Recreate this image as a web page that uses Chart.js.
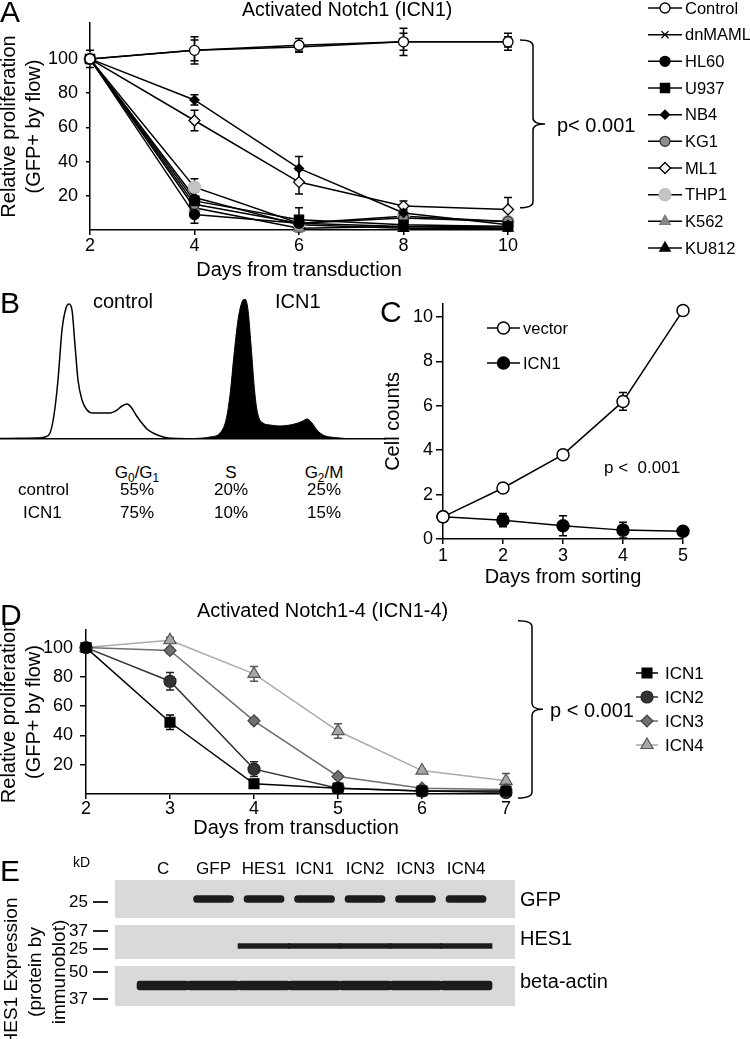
<!DOCTYPE html>
<html>
<head>
<meta charset="utf-8">
<script src="https://cdn.jsdelivr.net/npm/chart.js@4/dist/chart.umd.min.js"></script>
<style>
  body { margin: 0; background: #fff; }
  #page { position: relative; width: 750px; height: 1039px; overflow: hidden; font-family: "Liberation Sans", Arial, sans-serif; color: #000; }
  canvas { position: absolute; }
  .lbl { position: absolute; white-space: nowrap; }
  .lbl sub { font-size: 70%; vertical-align: -4px; line-height: 0; }
</style>
</head>
<body>
<div id="page">
  <canvas id="cA" width="753" height="290" style="left:-3px;top:0"></canvas>
  <canvas id="cB" width="400" height="160" style="left:0;top:290px"></canvas>
  <canvas id="cC" width="369" height="300" style="left:381px;top:290px"></canvas>
  <canvas id="cD" width="753" height="250" style="left:-3px;top:595px"></canvas>
  <canvas id="cE" width="750" height="189" style="left:0;top:850px"></canvas>
</div>
<script>
// ---- panel A: ICN1 in myeloid lines
const daysA = [2, 4, 6, 8, 10];
const linesA = ['Control', 'dnMAML', 'HL60', 'U937', 'NB4', 'KG1', 'ML1', 'THP1', 'K562', 'KU812'];
const valuesA = [
  [100, 105, 108, 110, 110],
  [100, 105, 107, 110, 110],
  [100, 9, 4, 2, 2],
  [100, 17, 6, 3, 2],
  [100, 76, 36, 10, 3],
  [100, 15, 4, 7, 5],
  [100, 64, 28, 14, 12],
  [100, 25, 4, 8, 5],
  [100, 13, 1, 2, 1],
  [100, 19, 3, 1, 1]
];
const errorsA = [
  [0, 8, 4, 8, 5],
  [0, 6, 3, 5, 3],
  [0, 5, 2, 1, 1],
  [5, 3, 7, 1, 1],
  [0, 3, 7, 2, 1],
  [0, 3, 2, 2, 2],
  [0, 6, 7, 3, 7],
  [0, 5, 2, 3, 2],
  [0, 2, 1, 1, 1],
  [0, 3, 1, 1, 1]
];
const yTicksA = [20, 40, 60, 80, 100];

// ---- panel B: cell cycle histograms
const controlChannel = [0, 20, 37, 45, 50, 54, 58, 62, 66, 69, 72, 75, 78, 82, 87, 93, 100, 110, 117, 122, 127, 131, 136, 141, 147, 153, 160, 168, 180, 200, 385];
const controlCounts = [0.5, 0.8, 1, 2, 6, 24, 59, 109, 131, 135, 129, 94, 59, 39, 29, 26, 26, 26, 29, 33, 35, 32, 24, 17, 10, 6, 3, 1, 0.5, 0, 0];
const icnChannel = [185, 195, 210, 220, 226, 230, 234, 238, 242, 245, 248, 251, 255, 258, 263, 270, 280, 290, 298, 303, 307, 312, 317, 323, 330, 340, 350];
const icnCounts = [0, 0.5, 2, 6, 19, 44, 84, 119, 137, 140, 129, 94, 44, 24, 16, 14, 13, 14, 16, 18, 20, 16, 9, 4, 2, 1, 0];
const phases = ['G<sub>0</sub>/G<sub>1</sub>', 'S', 'G<sub>2</sub>/M'];
const controlPct = [55, 20, 25];
const icn1Pct = [75, 10, 15];

// ---- panel C: cell counts after sorting
const daysC = [1, 2, 3, 4, 5];
const vectorC = [1, 2.3, 3.8, 6.2, 10.3];
const vectorErr = [0, 0.2, 0.12, 0.4, 0];
const icn1C = [1, 0.85, 0.6, 0.4, 0.35];
const icn1Err = [0, 0.3, 0.45, 0.35, 0];
const yTicksC = [0, 2, 4, 6, 8, 10];

// ---- panel D: ICN1-4
const daysD = [2, 3, 4, 5, 6, 7];
const namesD = ['ICN1', 'ICN2', 'ICN3', 'ICN4'];
const valuesD = [
  [100, 49, 7, 4, 2, 2],
  [100, 77, 17, 4, 2, 1],
  [100, 98, 50, 12, 4, 3],
  [100, 105, 82, 43, 16, 9]
];
const errorsD = [
  [2, 5, 1, 1, 1, 1],
  [1, 6, 5, 1, 1, 1],
  [1, 2, 2, 2, 1, 1],
  [1, 2, 5, 5, 1, 5]
];
const yTicksD = [20, 40, 60, 80, 100];

// ---- panel E: immunoblot
const lanes = ['C', 'GFP', 'HES1', 'ICN1', 'ICN2', 'ICN3', 'ICN4'];
const gfpBand = [0, 1, 1, 1, 1, 1, 1];
const hes1Band = [0, 0, 1, 1, 1, 1, 1];
const actinBand = [1, 1, 1, 1, 1, 1, 1];
const markerKD = ['25', '37', '25', '50', '37'];
const markerPos = [22, 51, 69, 92, 119];

Chart.defaults.font.family = '"Liberation Sans", Arial, sans-serif';
Chart.defaults.color = '#000';
Chart.defaults.animation = false;

const xy = (xs, ys) => xs.map((x, i) => ({ x: x, y: ys[i] }));

const errorBars = {
  id: 'errorBars',
  beforeDatasetsDraw(chart) {
    const ctx = chart.ctx, ys = chart.scales.y;
    chart.data.datasets.forEach((ds, di) => {
      if (!ds.errors) return;
      const meta = chart.getDatasetMeta(di);
      ctx.save();
      ctx.strokeStyle = ds.errorColor || '#000';
      ctx.lineWidth = 1.5;
      meta.data.forEach((pt, i) => {
        const e = ds.errors[i];
        if (!e) return;
        const v = ds.data[i].y;
        const t = ys.getPixelForValue(v + e), b = ys.getPixelForValue(v - e);
        ctx.beginPath();
        ctx.moveTo(pt.x, t); ctx.lineTo(pt.x, b);
        ctx.moveTo(pt.x - 4, t); ctx.lineTo(pt.x + 4, t);
        ctx.moveTo(pt.x - 4, b); ctx.lineTo(pt.x + 4, b);
        ctx.stroke();
      });
      ctx.restore();
    });
  }
};

const seriesLegend = {
  id: 'seriesLegend',
  afterDraw(chart, args, o) {
    if (o.y0 == null) return;
    const ctx = chart.ctx;
    ctx.save();
    chart.data.datasets.forEach((ds, i) => {
      const y = o.y0 + i * o.dy;
      ctx.strokeStyle = ds.borderColor;
      ctx.lineWidth = 1.5;
      ctx.beginPath(); ctx.moveTo(o.x0, y); ctx.lineTo(o.x1, y); ctx.stroke();
      ctx.fillStyle = ds.pointBackgroundColor;
      ctx.strokeStyle = ds.pointBorderColor;
      ctx.lineWidth = ds.pointBorderWidth || 1;
      Chart.helpers.drawPoint(ctx, { pointStyle: ds.pointStyle, radius: ds.pointRadius, rotation: 0, borderWidth: ds.pointBorderWidth || 1 }, (o.x0 + o.x1) / 2, y);
      ctx.fillStyle = '#000';
      ctx.font = o.size + 'px "Liberation Sans", Arial, sans-serif';
      ctx.textBaseline = 'middle';
      ctx.fillText(ds.label, o.tx, y + 1);
    });
    ctx.restore();
  }
};

const bracket = {
  id: 'bracket',
  afterDraw(chart, args, o) {
    if (o.x == null) return;
    const ys = chart.scales.y, ctx = chart.ctx;
    const t = ys.getPixelForValue(o.top), b = ys.getPixelForValue(o.bottom), m = (t + b) / 2, r = 6;
    ctx.save();
    ctx.strokeStyle = '#000';
    ctx.lineWidth = 1.5;
    ctx.beginPath();
    ctx.moveTo(o.x - o.hook, t);
    ctx.quadraticCurveTo(o.x, t, o.x, t + r);
    ctx.lineTo(o.x, m - r);
    ctx.quadraticCurveTo(o.x, m, o.x + o.tip, m);
    ctx.moveTo(o.x + o.tip, m);
    ctx.quadraticCurveTo(o.x, m, o.x, m + r);
    ctx.lineTo(o.x, b - r);
    ctx.quadraticCurveTo(o.x, b, o.x - o.hook, b);
    ctx.stroke();
    ctx.restore();
  }
};

function axisStyle(extra) {
  return Object.assign({
    grid: { drawOnChartArea: false, color: '#000', lineWidth: 1.5, tickLength: 5 },
    border: { color: '#000', width: 1.5 }
  }, extra);
}

// ---------- A
const markersA = [
  { pointStyle: 'circle', pointRadius: 5, pointBackgroundColor: '#fff', pointBorderColor: '#000' },
  { pointStyle: 'crossRot', pointRadius: 5, pointBackgroundColor: '#000', pointBorderColor: '#000' },
  { pointStyle: 'circle', pointRadius: 5, pointBackgroundColor: '#000', pointBorderColor: '#000' },
  { pointStyle: 'rect', pointRadius: 6.5, pointBackgroundColor: '#000', pointBorderColor: '#000' },
  { pointStyle: 'rectRot', pointRadius: 4.5, pointBackgroundColor: '#000', pointBorderColor: '#000' },
  { pointStyle: 'circle', pointRadius: 5, pointBackgroundColor: '#8c8c8c', pointBorderColor: '#333' },
  { pointStyle: 'rectRot', pointRadius: 5.5, pointBackgroundColor: '#f2f2f2', pointBorderColor: '#000' },
  { pointStyle: 'circle', pointRadius: 6, pointBackgroundColor: '#c4c4c4', pointBorderColor: '#bdbdbd' },
  { pointStyle: 'triangle', pointRadius: 6, pointBackgroundColor: '#8a8a8a', pointBorderColor: '#7a7a7a' },
  { pointStyle: 'triangle', pointRadius: 6, pointBackgroundColor: '#000', pointBorderColor: '#000' }
];

new Chart(document.getElementById('cA'), {
  type: 'line',
  data: {
    datasets: linesA.map((name, i) => Object.assign({
      label: name,
      data: xy(daysA, valuesA[i]),
      errors: errorsA[i],
      borderColor: '#000',
      borderWidth: 1.5,
      pointBorderWidth: 1.3,
      clip: false
    }, markersA[i]))
  },
  options: {
    responsive: false,
    layout: { padding: { left: 0, top: 23, right: 242, bottom: 0 } },
    plugins: {
      legend: { display: false }, tooltip: { enabled: false },
      seriesLegend: { x0: 651, x1: 685, tx: 688, y0: 8, dy: 26.67, size: 16.5 },
      bracket: { x: 536, top: 111, bottom: 13, hook: 13, tip: 12 }
    },
    scales: {
      x: axisStyle({
        type: 'linear', min: 2, max: 10,
        afterFit: s => { s.height = 60; },
        ticks: { stepSize: 2, font: { size: 18, lineHeight: 1.1 }, padding: 1 },
        title: { display: true, text: 'Days from transduction', font: { size: 20, lineHeight: 1.25 }, padding: { top: 0, bottom: 7 } }
      }),
      y: axisStyle({
        min: 0, max: 121,
        afterFit: s => { s.width = 93; },
        afterBuildTicks: s => { s.ticks = yTicksA.map(v => ({ value: v })); },
        ticks: { font: { size: 18 }, padding: 8 },
        grid: { drawOnChartArea: false, color: '#000', lineWidth: 1.5, tickLength: 4 },
        title: { display: true, text: ['Relative proliferation', '(GFP+ by flow)'], font: { size: 20, lineHeight: 1.25 }, padding: { top: 0, bottom: 0 } }
      })
    }
  },
  plugins: [errorBars, seriesLegend, bracket]
});

// ---------- B
new Chart(document.getElementById('cB'), {
  type: 'line',
  data: {
    datasets: [
      { label: 'control', data: xy(controlChannel, controlCounts), borderColor: '#000', borderWidth: 1.5, pointRadius: 0, fill: false, cubicInterpolationMode: 'monotone' },
      { label: 'ICN1', data: xy(icnChannel, icnCounts), borderColor: '#000', borderWidth: 1, backgroundColor: '#000', pointRadius: 0, fill: 'origin', cubicInterpolationMode: 'monotone' }
    ]
  },
  options: {
    responsive: false,
    layout: { padding: { left: 0, top: 9, right: 15, bottom: 11 } },
    plugins: { legend: { display: false }, tooltip: { enabled: false } },
    scales: {
      x: {
        type: 'linear', min: 0, max: 385,
        afterFit: s => { s.height = 0; },
        ticks: { display: false },
        grid: { drawOnChartArea: false, drawTicks: false },
        border: { color: '#000', width: 1.5 }
      },
      y: { display: false, min: 0, max: 140 }
    }
  }
});

// ---------- C
new Chart(document.getElementById('cC'), {
  type: 'line',
  data: {
    datasets: [
      { label: 'vector', data: xy(daysC, vectorC), errors: vectorErr, borderColor: '#000', borderWidth: 1.5, pointStyle: 'circle', pointRadius: 6, pointBackgroundColor: '#fff', pointBorderColor: '#000', pointBorderWidth: 1.5, clip: false },
      { label: 'ICN1', data: xy(daysC, icn1C), errors: icn1Err, borderColor: '#000', borderWidth: 1.5, pointStyle: 'circle', pointRadius: 6, pointBackgroundColor: '#000', pointBorderColor: '#000', pointBorderWidth: 1.5, clip: false }
    ]
  },
  options: {
    responsive: false,
    layout: { padding: { left: 0, top: 10, right: 67, bottom: 0 } },
    plugins: {
      legend: { display: false }, tooltip: { enabled: false },
      seriesLegend: { x0: 106, x1: 139, tx: 142, y0: 38, dy: 35, size: 16.5 }
    },
    scales: {
      x: axisStyle({
        type: 'linear', min: 1, max: 5,
        afterFit: s => { s.height = 51; },
        ticks: { stepSize: 1, font: { size: 18, lineHeight: 1.1 }, padding: 2 },
        title: { display: true, text: 'Days from sorting', font: { size: 20, lineHeight: 1.25 }, padding: { top: 0, bottom: 0.5 } }
      }),
      y: axisStyle({
        min: 0, max: 10.6,
        afterFit: s => { s.width = 62; },
        afterBuildTicks: s => { s.ticks = yTicksC.map(v => ({ value: v })); },
        ticks: { font: { size: 18 }, padding: 3 },
        grid: { drawOnChartArea: false, color: '#000', lineWidth: 1.5, tickLength: 7 },
        title: { display: true, text: 'Cell counts', font: { size: 20, lineHeight: 1.25 }, padding: { top: 0, bottom: 0 } }
      })
    }
  },
  plugins: [errorBars, seriesLegend]
});

// ---------- D
const stylesD = [
  { color: '#000', fill: '#000', edge: '#000', pointStyle: 'rect', pointRadius: 7 },
  { color: '#333', fill: '#333', edge: '#222', pointStyle: 'circle', pointRadius: 6 },
  { color: '#6e6e6e', fill: '#707070', edge: '#444', pointStyle: 'rectRot', pointRadius: 6 },
  { color: '#aaa', fill: '#a8a8a8', edge: '#555', pointStyle: 'triangle', pointRadius: 7 }
];

new Chart(document.getElementById('cD'), {
  type: 'line',
  data: {
    datasets: namesD.map((name, i) => ({
      label: name,
      data: xy(daysD, valuesD[i]),
      errors: errorsD[i],
      errorColor: stylesD[i].edge,
      borderColor: stylesD[i].color,
      borderWidth: 1.5,
      pointStyle: stylesD[i].pointStyle,
      pointRadius: stylesD[i].pointRadius,
      pointBackgroundColor: stylesD[i].fill,
      pointBorderColor: stylesD[i].edge,
      pointBorderWidth: 1.2,
      clip: false
    }))
  },
  options: {
    responsive: false,
    layout: { padding: { left: 0, top: 35, right: 244, bottom: 0 } },
    plugins: {
      legend: { display: false }, tooltip: { enabled: false },
      seriesLegend: { x0: 639, x1: 661, tx: 668, y0: 78, dy: 24, size: 17 },
      bracket: { x: 535, top: 118.3, bottom: -2.7, hook: 14, tip: 11 }
    },
    scales: {
      x: axisStyle({
        type: 'linear', min: 2, max: 7,
        afterFit: s => { s.height = 51; },
        ticks: { stepSize: 1, font: { size: 18, lineHeight: 1.1 }, padding: 0 },
        title: { display: true, text: 'Days from transduction', font: { size: 20, lineHeight: 1.25 }, padding: { top: 0, bottom: 4.5 } }
      }),
      y: axisStyle({
        min: 0, max: 112,
        afterFit: s => { s.width = 89; },
        afterBuildTicks: s => { s.ticks = yTicksD.map(v => ({ value: v })); },
        ticks: { font: { size: 18 }, padding: 7 },
        grid: { drawOnChartArea: false, color: '#000', lineWidth: 1.5, tickLength: 6 },
        title: { display: true, text: ['Relative proliferation', '(GFP+ by flow)'], font: { size: 20, lineHeight: 1.25 }, padding: { top: 0, bottom: 0 } }
      })
    }
  },
  plugins: [errorBars, seriesLegend, bracket]
});

// ---------- E
const blotBoxes = {
  id: 'blotBoxes',
  beforeDatasetsDraw(chart) {
    const ctx = chart.ctx, ys = chart.scales.y, a = chart.chartArea;
    ctx.save();
    ctx.fillStyle = '#d9d9d9';
    [[0, 38], [45, 79], [86, 126]].forEach(([t, b]) => {
      const y0 = ys.getPixelForValue(t), y1 = ys.getPixelForValue(b);
      ctx.fillRect(a.left + 7, y0, a.right - a.left - 7, y1 - y0);
    });
    ctx.restore();
  }
};
const bandData = (present, center, h) => present.map((p, i) => ({ x: i, y: p ? [center - h / 2, center + h / 2] : null }));

new Chart(document.getElementById('cE'), {
  type: 'bar',
  data: {
    datasets: [
      { label: 'GFP', data: bandData(gfpBand, 19, 7), backgroundColor: '#1c1c1c', barThickness: 40, borderRadius: 4, borderSkipped: false, grouped: false },
      { label: 'HES1', data: bandData(hes1Band, 66, 5), backgroundColor: '#1c1c1c', barThickness: 52, grouped: false },
      { label: 'beta-actin', data: bandData(actinBand, 105.5, 9), backgroundColor: '#1c1c1c', barThickness: 52, borderRadius: 3, borderSkipped: false, grouped: false }
    ]
  },
  options: {
    responsive: false,
    layout: { padding: { left: 0, top: 0, right: 235, bottom: 33 } },
    plugins: { legend: { display: false }, tooltip: { enabled: false } },
    scales: {
      x: {
        type: 'linear', position: 'top', min: -1.09, max: 6.97, offset: false,
        afterFit: s => { s.height = 30; },
        afterBuildTicks: s => { s.ticks = lanes.map((l, i) => ({ value: i })); },
        ticks: { font: { size: 17, lineHeight: 1.2 }, padding: 0, callback: v => lanes[v] },
        grid: { drawOnChartArea: false, drawTicks: false, offset: false },
        border: { display: false }
      },
      y: {
        min: 0, max: 126, reverse: true,
        afterFit: s => { s.width = 108; },
        afterBuildTicks: s => { s.ticks = markerPos.map(v => ({ value: v })); },
        ticks: { font: { size: 17 }, padding: 5, callback: (v, i) => markerKD[i] },
        grid: { drawOnChartArea: false, color: '#222', lineWidth: 2, tickLength: 15 },
        border: { display: false }
      }
    }
  },
  plugins: [blotBoxes]
});

// ---------- free text
const page = document.getElementById('page');
function addText(html, x, base, size, align) {
  const el = document.createElement('div');
  el.className = 'lbl';
  el.innerHTML = html;
  el.style.fontSize = size + 'px';
  el.style.lineHeight = size + 'px';
  el.style.left = x + 'px';
  el.style.top = (base - 0.8465 * size) + 'px';
  if (align === 'center') el.style.transform = 'translateX(-50%)';
  page.appendChild(el);
  return el;
}
addText('A', 0, 22, 30);
addText('B', 0, 313, 30);
addText('C', 380, 322, 30);
addText('D', 0, 625, 30);
addText('E', 0, 881, 30);

addText('Activated Notch1 (ICN1)', 242, 17, 19.5);
addText('p&lt; 0.001', 557, 132, 20);

addText('control', 93, 308, 20);
addText('ICN1', 275, 308, 20);
const colX = [137, 231, 324];
phases.forEach((p, i) => addText(p, colX[i], 478, 17, 'center'));
addText('control', 18, 495, 17);
addText('ICN1', 23, 518, 17);
controlPct.forEach((v, i) => addText(v + '%', colX[i], 495, 17, 'center'));
icn1Pct.forEach((v, i) => addText(v + '%', colX[i], 518, 17, 'center'));

addText('p &lt;&nbsp; 0.001', 604, 473, 17);

addText('Activated Notch1-4 (ICN1-4)', 197, 617, 20);
addText('p &lt; 0.001', 550, 717, 20);

addText('kD', 73, 867, 14);
addText('GFP', 520, 906, 20);
addText('HES1', 520, 945, 20);
addText('beta-actin', 520, 988, 20);

const yt = document.createElement('div');
yt.className = 'lbl';
yt.innerHTML = 'HES1 Expression<br>(protein by<br>immunoblot)';
Object.assign(yt.style, { fontSize: '19px', lineHeight: '24px', width: '200px', height: '72px', textAlign: 'center', left: '-65px', top: '936px', transform: 'rotate(-90deg)' });
page.appendChild(yt);
</script>
</body>
</html>
